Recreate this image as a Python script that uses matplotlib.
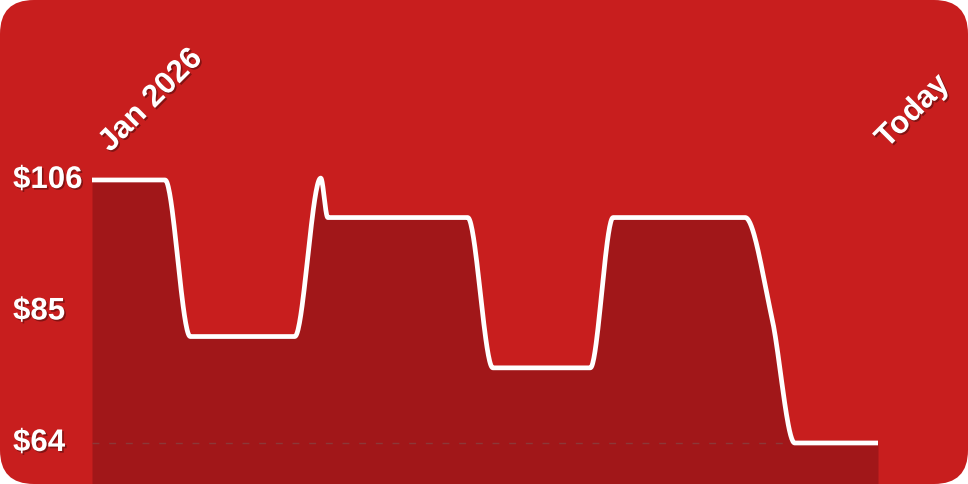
import numpy as np
import matplotlib
matplotlib.use("Agg")
import matplotlib.pyplot as plt
import matplotlib.patheffects as pe
from matplotlib.patches import FancyBboxPatch
from matplotlib.transforms import blended_transform_factory

# price history, days since Jan 1 2026 (today = 100)
days = [0, 9.3, 12.5, 25.8, 29.1, 30.0, 47.8, 51.0, 63.4, 66.3, 83.1, 86.5, 89.4, 100]
prices = [106, 106, 81, 81, 106.3, 100, 100, 76, 76, 100, 100, 84, 64, 64]

tick_values = [106, 85, 64]
tick_labels = ["$106", "$85", "$64"]
start_label = "Jan 2026"
end_label = "Today"
low_price = 64

card_red = "#C81E1E"
fill_red = "#A11719"


def monotone_curve(x, y, n=40):
    # monotone cubic (Fritsch-Carlson) just for drawing a smooth line
    x = np.asarray(x, float)
    y = np.asarray(y, float)
    h = np.diff(x)
    d = np.diff(y) / h
    m = np.zeros_like(y)
    m[0], m[-1] = d[0], d[-1]
    for i in range(1, len(x) - 1):
        if d[i - 1] * d[i] > 0:
            w1 = 2 * h[i] + h[i - 1]
            w2 = h[i] + 2 * h[i - 1]
            m[i] = (w1 + w2) / (w1 / d[i - 1] + w2 / d[i])
    xs, ys = [], []
    for i in range(len(x) - 1):
        t = np.linspace(0, 1, n)
        h00 = 2 * t**3 - 3 * t**2 + 1
        h10 = t**3 - 2 * t**2 + t
        h01 = -2 * t**3 + 3 * t**2
        h11 = t**3 - t**2
        xs.append(x[i] + t * h[i])
        ys.append(h00 * y[i] + h10 * h[i] * m[i] + h01 * y[i + 1] + h11 * h[i] * m[i + 1])
    return np.concatenate(xs), np.concatenate(ys)


plt.rcParams["font.family"] = ["Liberation Sans", "DejaVu Sans"]

fig = plt.figure(figsize=(9.68, 4.84), dpi=100)
fig.patch.set_facecolor("white")

# rounded card behind everything
card = FancyBboxPatch((0, 0), 1, 1, boxstyle="round,pad=0,rounding_size=0.035",
                      transform=fig.transFigure, facecolor=card_red,
                      edgecolor="none", mutation_aspect=2, zorder=-10)
fig.patches.append(card)

ax = fig.add_axes([92 / 968, 0, 786 / 968, 1])
ax.set_zorder(1)
ax.set_facecolor("none")
ax.set_xlim(0, 100)
ax.set_ylim(57.45, 134.74)
ax.axis("off")

cx, cy = monotone_curve(days, prices)
ax.fill_between(cx, cy, 57.45, color=fill_red, linewidth=0, zorder=1)
ax.axhline(low_price, color="#8c3838", lw=1, dashes=(5, 7), zorder=2)
ax.plot(cx, cy, color="white", lw=3.4, solid_joinstyle="round",
        solid_capstyle="butt", zorder=3)

shadow = [pe.SimplePatchShadow(offset=(1.2, -1.2), shadow_rgbFace="black", alpha=0.35),
          pe.Normal()]

trans = blended_transform_factory(fig.transFigure, ax.transData)
for v, lab in zip(tick_values, tick_labels):
    ax.text(13 / 968, v, lab, transform=trans, ha="left", va="center",
            color="white", fontsize=22.5, fontweight="bold", path_effects=shadow,
            clip_on=False)

ax.annotate(start_label, xy=(days[0], prices[0]), xytext=(18, 27),
            textcoords="offset pixels", rotation=45, rotation_mode="anchor",
            ha="left", va="baseline", color="white", fontsize=22.5,
            fontweight="bold", path_effects=shadow, annotation_clip=False)
ax.annotate(end_label, xy=(days[-1], prices[0]), xytext=(9, 31),
            textcoords="offset pixels", rotation=45, rotation_mode="anchor",
            ha="left", va="baseline", color="white", fontsize=22.5,
            fontweight="bold", path_effects=shadow, annotation_clip=False)

fig.savefig("out.png", dpi=100, facecolor=fig.get_facecolor())
